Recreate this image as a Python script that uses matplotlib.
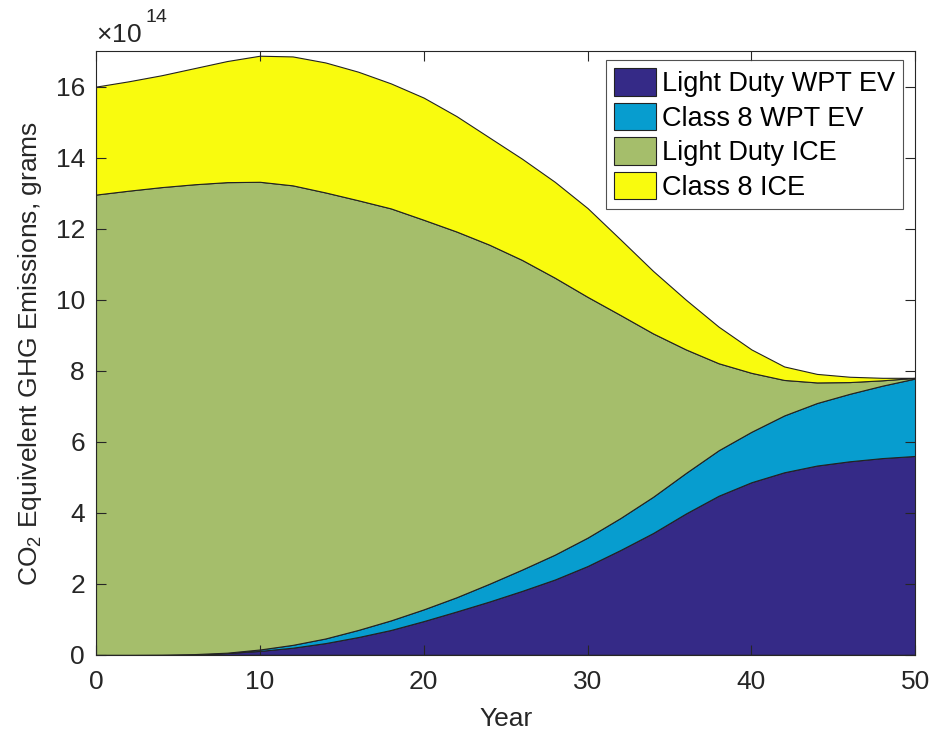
import matplotlib
matplotlib.use("Agg")
import matplotlib.pyplot as plt
import numpy as np

plt.rcParams['font.family'] = ['Liberation Sans', 'DejaVu Sans']
plt.rcParams['mathtext.fontset'] = 'custom'
plt.rcParams['mathtext.rm'] = 'Liberation Sans'
plt.rcParams['mathtext.it'] = 'Liberation Sans:italic'

years = list(range(0, 51, 2))
# values in units of 1e14 grams
light_duty_wpt_ev = [0, 0, 0.003, 0.015, 0.05, 0.11, 0.2, 0.33, 0.5, 0.7, 0.95, 1.22, 1.5,
                     1.8, 2.12, 2.5, 2.95, 3.43, 3.98, 4.48, 4.86, 5.14, 5.33, 5.45, 5.54, 5.6]
class8_wpt_ev = [0, 0, 0.002, 0.005, 0.01, 0.04, 0.08, 0.13, 0.2, 0.27, 0.33, 0.40, 0.50,
                 0.60, 0.70, 0.8, 0.9, 1.02, 1.14, 1.28, 1.42, 1.60, 1.76, 1.90, 2.04, 2.18]
light_duty_ice = [12.96, 13.07, 13.165, 13.23, 13.25, 13.17, 12.94, 12.56, 12.10, 11.60, 10.97,
                  10.30, 9.55, 8.72, 7.80, 6.78, 5.72, 4.60, 3.48, 2.45, 1.66, 1.00, 0.58,
                  0.33, 0.15, 0.02]
class8_ice = [3.04, 3.08, 3.15, 3.27, 3.41, 3.55, 3.63, 3.66, 3.62, 3.52, 3.44, 3.25, 3.02,
              2.85, 2.70, 2.50, 2.13, 1.76, 1.40, 1.03, 0.66, 0.38, 0.24, 0.15, 0.07, 0.0]

labels = ["Light Duty WPT EV", "Class 8 WPT EV", "Light Duty ICE", "Class 8 ICE"]
colors = ["#352a87", "#079dcf", "#a5be6b", "#f9fb0e"]

fig = plt.figure(figsize=(9.32, 7.30), dpi=100)
ax = fig.add_axes([0.103, 0.103, 0.879, 0.827])

polys = ax.stackplot(years, light_duty_wpt_ev, class8_wpt_ev, light_duty_ice, class8_ice,
                     labels=labels, colors=colors, edgecolor='#222222', linewidth=0.8)

ax.set_xlim(0, 50)
ax.set_ylim(0, 17)
ax.set_xticks([0, 10, 20, 30, 40, 50])
ax.set_yticks([0, 2, 4, 6, 8, 10, 12, 14, 16])
ax.tick_params(direction='in', top=True, right=True, length=7, width=0.8,
               labelsize=19, colors='#262626')
ax.tick_params(axis='x', pad=11)
ax.tick_params(axis='y', pad=8)
for s in ax.spines.values():
    s.set_color('#262626')
    s.set_linewidth(0.8)
    s.set_zorder(5)

ax.set_xlabel("Year", fontsize=19, color='#262626', labelpad=9)
ax.set_ylabel("CO$_2$ Equivelent GHG Emissions, grams", fontsize=19, color='#262626', labelpad=8)

ax.text(0.0, 1.006, r"$\times$10", transform=ax.transAxes, fontsize=19, color='#262626',
        ha='left', va='bottom')
ax.text(0.06, 1.042, "14", transform=ax.transAxes, fontsize=14, color='#262626',
        ha='left', va='bottom')

leg = ax.legend(loc='upper right', bbox_to_anchor=(0.985, 0.985), fontsize=19.5, frameon=True,
                fancybox=False, edgecolor='#262626', handlelength=1.55, handleheight=1.2,
                handletextpad=0.2, labelspacing=0.2, borderpad=0.3, borderaxespad=0.0)
leg.get_frame().set_linewidth(0.8)

fig.savefig("out.png", dpi=100)
